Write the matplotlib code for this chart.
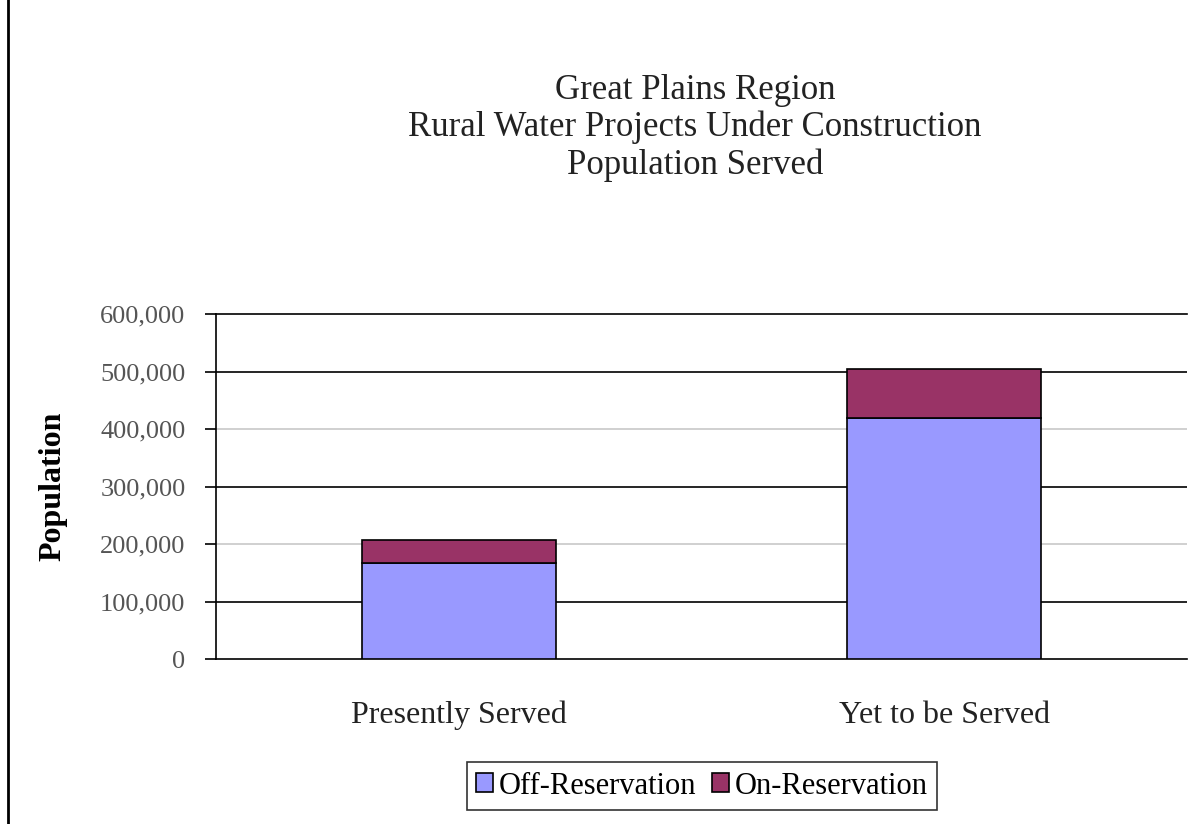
import matplotlib
matplotlib.use("Agg")
import matplotlib.pyplot as plt
from matplotlib.lines import Line2D
from matplotlib.ticker import FuncFormatter

categories = ["Presently Served", "Yet to be Served"]
off_reservation = [167000, 419000]
on_reservation = [40000, 85000]
yticks = [0, 100000, 200000, 300000, 400000, 500000, 600000]

plt.rcParams['font.family'] = ['Liberation Serif', 'DejaVu Serif']

fig = plt.figure(figsize=(12.01, 8.24), dpi=100)
ax = fig.add_axes([216/1201, 1 - 659/824, (1187-216)/1201, (659-314)/824])

x = list(range(len(categories)))
ax.bar(x, off_reservation, width=0.40, color="#9999FF", edgecolor="#000000",
       linewidth=1.2, label="Off-Reservation", zorder=3)
ax.bar(x, on_reservation, width=0.40, bottom=off_reservation, color="#993366",
       edgecolor="#000000", linewidth=1.2, label="On-Reservation", zorder=3)

ax.set_xlim(-0.5, 1.5)
ax.set_ylim(0, 600000)
ax.set_yticks(yticks)
ax.yaxis.set_major_formatter(FuncFormatter(lambda v, p: f"{int(v):,}"))
for v in yticks[1:-1]:
    ax.axhline(v, color="#000000" if (v // 100000) % 2 == 1 else "#c8c8c8",
               linewidth=1.2, zorder=1)
ax.set_xticks(x)
ax.set_xticklabels(categories, fontsize=23, color="#222222")
ax.tick_params(axis='x', length=0, pad=30)
ax.tick_params(axis='y', labelsize=19, colors="#000000", length=8, width=1.2, pad=14)
for lab in ax.get_yticklabels():
    lab.set_color("#555555")
ax.spines['right'].set_visible(False)
for s in ['top', 'left', 'bottom']:
    ax.spines[s].set_linewidth(1.2)
ax.set_ylabel("Population", fontsize=23, fontweight="bold", labelpad=14)
ax.yaxis.set_label_coords(-(216 - 67) / 971, 0.5)

fig.text(695/1201, 1 - 128/824,
         "Great Plains Region\nRural Water Projects Under Construction\nPopulation Served",
         ha="center", va="center", fontsize=25, linespacing=1.15, color="#222222")

leg = fig.legend(loc="center", bbox_to_anchor=(702/1201, 1 - 786/824), ncol=2,
                 fontsize=22, frameon=True, fancybox=False, edgecolor="#000000",
                 handlelength=0.55, handleheight=0.55, handletextpad=0.2,
                 columnspacing=0.5, borderpad=0.3)
leg.get_frame().set_linewidth(1.2)

fig.add_artist(Line2D([8/1201, 8/1201], [0, 1], transform=fig.transFigure,
                      color="#000000", linewidth=2))

fig.savefig("out.png", dpi=100)
